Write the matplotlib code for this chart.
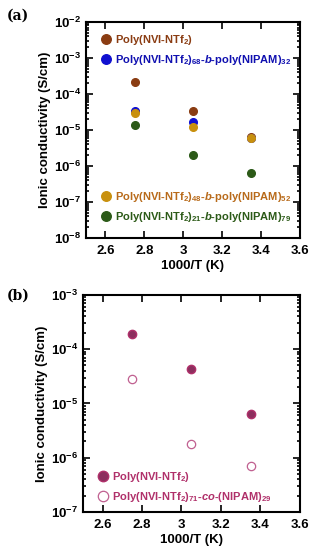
import matplotlib
matplotlib.use("Agg")
import matplotlib.pyplot as plt
from matplotlib.ticker import LogLocator, NullFormatter, MultipleLocator

plt.rcParams["font.family"] = ["Liberation Sans", "DejaVu Sans"]
plt.rcParams["font.weight"] = "bold"
plt.rcParams["mathtext.fontset"] = "custom"
plt.rcParams["mathtext.rm"] = "Liberation Sans:bold"
plt.rcParams["mathtext.it"] = "Liberation Sans:italic:bold"
plt.rcParams["mathtext.bf"] = "Liberation Sans:bold"
plt.rcParams["mathtext.default"] = "rm"

# panel (a) data
temps_a = [2.75, 3.05, 3.35]
homo_a = [2.2e-4, 3.4e-5, 6.5e-6]
b68_a = [3.4e-5, 1.65e-5, 6.1e-6]
b48_a = [2.9e-5, 1.2e-5, 5.9e-6]
b21_a = [1.4e-5, 2.0e-6, 6.6e-7]
labels_a = [
    r"Poly(NVI-NTf$_2$)",
    r"Poly(NVI-NTf$_2$)$_{68}$-$\it{b}$-poly(NIPAM)$_{32}$",
    r"Poly(NVI-NTf$_2$)$_{48}$-$\it{b}$-poly(NIPAM)$_{52}$",
    r"Poly(NVI-NTf$_2$)$_{21}$-$\it{b}$-poly(NIPAM)$_{79}$",
]
colors_a = ["#8a3c12", "#1010d0", "#c8900e", "#2c5a18"]
text_colors_a = ["#8a3c12", "#1010b0", "#b86a1a", "#2c5a18"]

# panel (b) data
temps_b = [2.75, 3.05, 3.35]
homo_b = [1.9e-4, 4.3e-5, 6.3e-6]
co_b = [2.8e-5, 1.8e-6, 7.1e-7]
labels_b = [r"Poly(NVI-NTf$_2$)", r"Poly(NVI-NTf$_2$)$_{71}$-$\it{co}$-(NIPAM)$_{29}$"]
color_b = "#b0306a"

fig = plt.figure(figsize=(3.15, 5.5), dpi=100)
ax_a = fig.add_axes([0.273, 0.567, 0.679, 0.393])
ax_b = fig.add_axes([0.263, 0.069, 0.689, 0.395])


def style_axis(ax, ylo, yhi):
    ax.set_yscale("log")
    ax.set_xlim(2.5, 3.6)
    ax.set_ylim(ylo, yhi)
    ax.xaxis.set_major_locator(MultipleLocator(0.2))
    ax.yaxis.set_major_locator(LogLocator(base=10, numticks=20))
    ax.yaxis.set_minor_locator(LogLocator(base=10, subs=range(2, 10), numticks=20))
    ax.yaxis.set_minor_formatter(NullFormatter())
    ax.tick_params(which="both", direction="in", top=True, right=True, labelsize=9.5, width=1.2)
    ax.tick_params(which="major", length=5)
    ax.tick_params(which="minor", length=2.5)
    ax.tick_params(axis="x", pad=5)
    for s in ax.spines.values():
        s.set_linewidth(1.5)
    ax.set_xticks([2.6, 2.8, 3.0, 3.2, 3.4, 3.6])
    ax.set_xticklabels(["2.6", "2.8", "3", "3.2", "3.4", "3.6"])
    ax.set_xlabel("1000/T (K)", fontsize=9.5, fontweight="bold", labelpad=2)
    ax.set_ylabel("Ionic conductivity (S/cm)", fontsize=9.5, fontweight="bold", labelpad=2)


leg_kw = dict(frameon=False, fontsize=8, handletextpad=0.35, labelspacing=0.55,
              handlelength=1.0, markerscale=1.25, borderaxespad=0.3)

style_axis(ax_a, 1e-8, 1e-2)
series_a = [homo_a, b68_a, b48_a, b21_a]
handles_a = []
for vals, c, lab in zip(series_a, colors_a, labels_a):
    h, = ax_a.plot(temps_a, vals, "o", color=c, markersize=5.5, linestyle="none", label=lab)
    handles_a.append(h)

leg1 = ax_a.legend(handles_a[:2], labels_a[:2], loc="upper left",
                   bbox_to_anchor=(0.03, 0.985), **leg_kw)
for t, c in zip(leg1.get_texts(), text_colors_a[:2]):
    t.set_color(c)
ax_a.add_artist(leg1)
leg2 = ax_a.legend(handles_a[2:], labels_a[2:], loc="lower left",
                   bbox_to_anchor=(0.03, 0.03), **leg_kw)
for t, c in zip(leg2.get_texts(), text_colors_a[2:]):
    t.set_color(c)

style_axis(ax_b, 1e-7, 1e-3)
h1, = ax_b.plot(temps_b, homo_b, "o", color="#8c2f5e", markeredgecolor=color_b, markersize=6,
                linestyle="none")
h2, = ax_b.plot(temps_b, co_b, "o", markerfacecolor="white", markeredgecolor="#c06090", markersize=6,
                markeredgewidth=0.9, linestyle="none")
leg3 = ax_b.legend([h1, h2], labels_b, loc="lower left",
                   bbox_to_anchor=(0.03, 0.0), **leg_kw)
for t in leg3.get_texts():
    t.set_color(color_b)

fig.text(0.02, 0.965, "(a)", fontsize=10, fontweight="bold", family="DejaVu Serif")
fig.text(0.02, 0.455, "(b)", fontsize=10, fontweight="bold", family="DejaVu Serif")

fig.savefig("out.png", dpi=100)
